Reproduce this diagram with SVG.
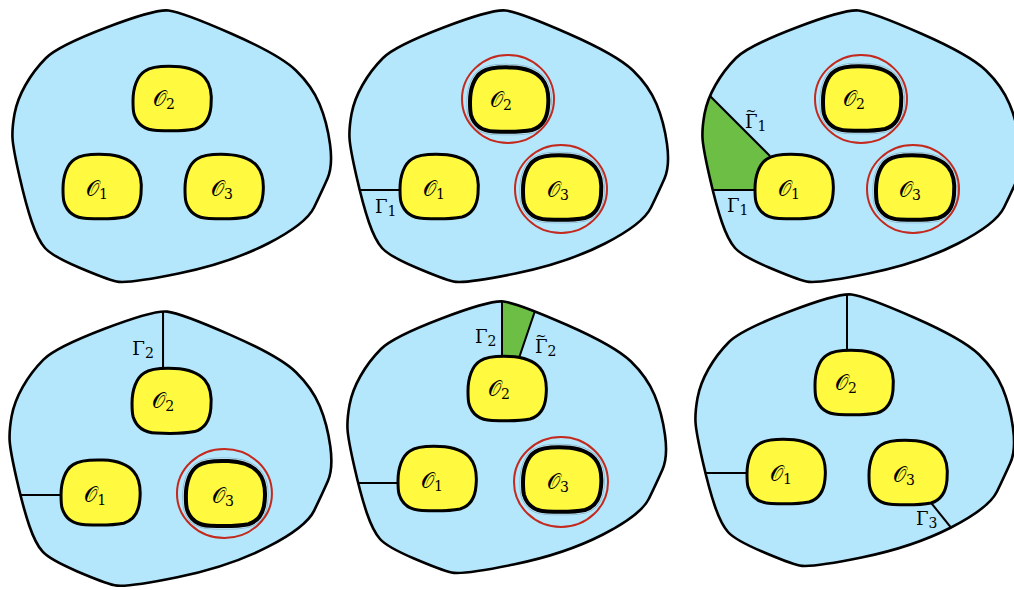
<svg xmlns="http://www.w3.org/2000/svg" xmlns:xlink="http://www.w3.org/1999/xlink" width="1014" height="590" viewBox="0 0 1014 590">
<style>
.dom{fill:#b4e6fc;stroke:none}
.domline{fill:none;stroke:#000;stroke-width:2.6;stroke-linejoin:round}
.blob{fill:#fff93f;stroke:#000;stroke-width:3}
.blobc{fill:#fff93f;stroke:#000;stroke-width:4}
.halo1{fill:none;stroke:#86b3ca;stroke-width:7}
.halo2{fill:none;stroke:#c6eefd;stroke-width:5.5}
.ring{fill:none;stroke:#c3291c;stroke-width:2}
.cut{stroke:#000;stroke-width:2;fill:none}
.green{fill:#6cbe44;stroke:none}
.O{font-family:"DejaVu Serif","Liberation Serif",serif;font-size:21px;fill:#000}
.G{font-family:"DejaVu Serif","Liberation Serif",serif;font-size:18px;fill:#000}
.t{font-size:13px;text-anchor:middle}
.s{font-size:14px}
</style>
<defs>
<path id="outer" d="M 12.5,138 Q 12,128 14.5,114 Q 17,100 25.5,85 Q 34,70 46,58 Q 58,46 106.5,27.5 Q 155,9 168.5,10.5 Q 182,12 231,33.5 Q 280,55 296,70.5 Q 312,86 319.5,104 Q 327,122 330,144 Q 333,166 327.5,178.5 Q 322,191 314,207.5 Q 306,224 268,243.5 Q 230,263 178.5,273.5 Q 127,284 116.5,281.5 Q 106,279 79,267.5 Q 52,256 45,248 Q 38,240 32,222.5 Q 26,205 19.5,176.5 Q 13,148 12.5,138 Z"/>
<path id="blob" d="M 0,35 C 0,22 4,10 12,5 C 18,1 30,0 42,0.5 C 55,1 66,5 72,12 C 78,19 79,30 78,40 C 77,52 72,60 62,63 C 52,65 36,65 24,64.5 C 12,64 4,58 1,48 C 0,44 0,40 0,35 Z"/>
<clipPath id="clipDom"><use xlink:href="#outer"/></clipPath>
</defs>

<!-- Panel 1 -->
<g id="panel1">
  <use xlink:href="#outer" class="dom"/>
  <use xlink:href="#outer" class="domline"/>
  <g id="p1-O2" transform="translate(133,66)"><use xlink:href="#blob" class="blob"/><text class="O" x="20" y="40">𝒪<tspan class="s" dy="3">2</tspan></text></g>
  <g id="p1-O1" transform="translate(63,154)"><use xlink:href="#blob" class="blob"/><text class="O" x="23" y="42">𝒪<tspan class="s" dy="3">1</tspan></text></g>
  <g id="p1-O3" transform="translate(185,154)"><use xlink:href="#blob" class="blob"/><text class="O" x="26" y="42">𝒪<tspan class="s" dy="3">3</tspan></text></g>
</g>

<!-- Panel 2 -->
<g id="panel2" transform="translate(337,0)">
  <use xlink:href="#outer" class="dom"/>
  <g id="p2-connectors" clip-path="url(#clipDom)">
    <line class="cut" x1="0" y1="190" x2="66" y2="190"/>
  </g>
  <use xlink:href="#outer" class="domline"/>
  <g id="p2-O2" transform="translate(133,67)"><use xlink:href="#blob" class="halo1"/><use xlink:href="#blob" class="halo2"/><use xlink:href="#blob" class="blobc"/><text class="O" x="20" y="40">𝒪<tspan class="s" dy="3">2</tspan></text></g>
  <g id="p2-O1" transform="translate(63,154)"><use xlink:href="#blob" class="blob"/><text class="O" x="23" y="42">𝒪<tspan class="s" dy="3">1</tspan></text></g>
  <g id="p2-O3" transform="translate(186,155)"><use xlink:href="#blob" class="halo1"/><use xlink:href="#blob" class="halo2"/><use xlink:href="#blob" class="blobc"/><text class="O" x="24" y="42">𝒪<tspan class="s" dy="3">3</tspan></text></g>
  <ellipse class="ring" cx="171" cy="99" rx="46" ry="44"/>
  <ellipse class="ring" cx="224" cy="189" rx="46" ry="44"/>
  <text class="G" x="38" y="213">Γ<tspan class="s" dy="3">1</tspan></text>
</g>

<!-- Panel 3 -->
<g id="panel3" transform="translate(690,0)">
  <use xlink:href="#outer" class="dom"/>
  <g id="p3-connectors" clip-path="url(#clipDom)">
    <polygon class="green" points="80,156 10,86 -5,86 -5,190 74,190 84,162"/>
    <line class="cut" x1="0" y1="190" x2="68" y2="190"/>
    <line class="cut" x1="10" y1="86" x2="80" y2="156"/>
  </g>
  <use xlink:href="#outer" class="domline"/>
  <g id="p3-O2" transform="translate(133,66)"><use xlink:href="#blob" class="halo1"/><use xlink:href="#blob" class="halo2"/><use xlink:href="#blob" class="blobc"/><text class="O" x="20" y="40">𝒪<tspan class="s" dy="3">2</tspan></text></g>
  <g id="p3-O1" transform="translate(65,154)"><use xlink:href="#blob" class="blob"/><text class="O" x="23" y="42">𝒪<tspan class="s" dy="3">1</tspan></text></g>
  <g id="p3-O3" transform="translate(186,155)"><use xlink:href="#blob" class="halo1"/><use xlink:href="#blob" class="halo2"/><use xlink:href="#blob" class="blobc"/><text class="O" x="23" y="42">𝒪<tspan class="s" dy="3">3</tspan></text></g>
  <ellipse class="ring" cx="171" cy="99" rx="46" ry="44"/>
  <ellipse class="ring" cx="223" cy="189" rx="46" ry="44"/>
  <text class="G" x="55" y="128">Γ<tspan class="s" dy="3">1</tspan><tspan class="t" x="61" y="115">~</tspan></text>
  <text class="G" x="37" y="212">Γ<tspan class="s" dy="3">1</tspan></text>
</g>

<!-- Panel 4 -->
<g id="panel4" transform="translate(-3,301) scale(1.01)">
  <use xlink:href="#outer" class="dom"/>
  <g id="p4-connectors" clip-path="url(#clipDom)">
    <line class="cut" x1="164.4" y1="0" x2="164.4" y2="68"/>
    <line class="cut" x1="0" y1="192" x2="65" y2="192"/>
  </g>
  <use xlink:href="#outer" class="domline"/>
  <g id="p4-O2" transform="translate(133.7,66.3)"><use xlink:href="#blob" class="blob"/><text class="O" x="20" y="40">𝒪<tspan class="s" dy="3">2</tspan></text></g>
  <g id="p4-O1" transform="translate(63.4,157)"><use xlink:href="#blob" class="blob"/><text class="O" x="23" y="42">𝒪<tspan class="s" dy="3">1</tspan></text></g>
  <g id="p4-O3" transform="translate(187,158)"><use xlink:href="#blob" class="halo1"/><use xlink:href="#blob" class="halo2"/><use xlink:href="#blob" class="blobc"/><text class="O" x="26" y="42">𝒪<tspan class="s" dy="3">3</tspan></text></g>
  <ellipse class="ring" cx="225.2" cy="190.6" rx="47" ry="44"/>
  <text class="G" x="134" y="53.5">Γ<tspan class="s" dy="3">2</tspan></text>
</g>

<!-- Panel 5 -->
<g id="panel5" transform="translate(335,291)">
  <use xlink:href="#outer" class="dom"/>
  <g id="p5-connectors" clip-path="url(#clipDom)">
    <polygon class="green" points="167,-5 167,70 183,72 205.4,4 205.4,-5"/>
    <line class="cut" x1="167" y1="-5" x2="167" y2="67"/>
    <line class="cut" x1="205.4" y1="4" x2="184" y2="67"/>
    <line class="cut" x1="0" y1="192" x2="65" y2="192"/>
  </g>
  <use xlink:href="#outer" class="domline"/>
  <g id="p5-O2" transform="translate(133,65)"><use xlink:href="#blob" class="blob"/><text class="O" x="20" y="40">𝒪<tspan class="s" dy="3">2</tspan></text></g>
  <g id="p5-O1" transform="translate(63,155)"><use xlink:href="#blob" class="blob"/><text class="O" x="23" y="42">𝒪<tspan class="s" dy="3">1</tspan></text></g>
  <g id="p5-O3" transform="translate(188,156)"><use xlink:href="#blob" class="halo1"/><use xlink:href="#blob" class="halo2"/><use xlink:href="#blob" class="blobc"/><text class="O" x="24" y="42">𝒪<tspan class="s" dy="3">3</tspan></text></g>
  <ellipse class="ring" cx="226" cy="191" rx="47" ry="45"/>
  <text class="G" x="140" y="52">Γ<tspan class="s" dy="3">2</tspan></text>
  <text class="G" x="200" y="62">Γ<tspan class="s" dy="3">2</tspan><tspan class="t" x="206" y="49">~</tspan></text>
</g>

<!-- Panel 6 -->
<g id="panel6" transform="translate(683,284)">
  <use xlink:href="#outer" class="dom"/>
  <g id="p6-connectors" clip-path="url(#clipDom)">
    <line class="cut" x1="164" y1="0" x2="164" y2="68"/>
    <line class="cut" x1="0" y1="189" x2="66" y2="189"/>
    <line class="cut" x1="245" y1="215" x2="278" y2="256"/>
  </g>
  <use xlink:href="#outer" class="domline"/>
  <g id="p6-O2" transform="translate(132,66)"><use xlink:href="#blob" class="blob"/><text class="O" x="20" y="40">𝒪<tspan class="s" dy="3">2</tspan></text></g>
  <g id="p6-O1" transform="translate(64,155)"><use xlink:href="#blob" class="blob"/><text class="O" x="23" y="42">𝒪<tspan class="s" dy="3">1</tspan></text></g>
  <g id="p6-O3" transform="translate(186,156)"><use xlink:href="#blob" class="blob"/><text class="O" x="24" y="42">𝒪<tspan class="s" dy="3">3</tspan></text></g>
  <text class="G" x="233" y="241">Γ<tspan class="s" dy="3">3</tspan></text>
</g>
</svg>
